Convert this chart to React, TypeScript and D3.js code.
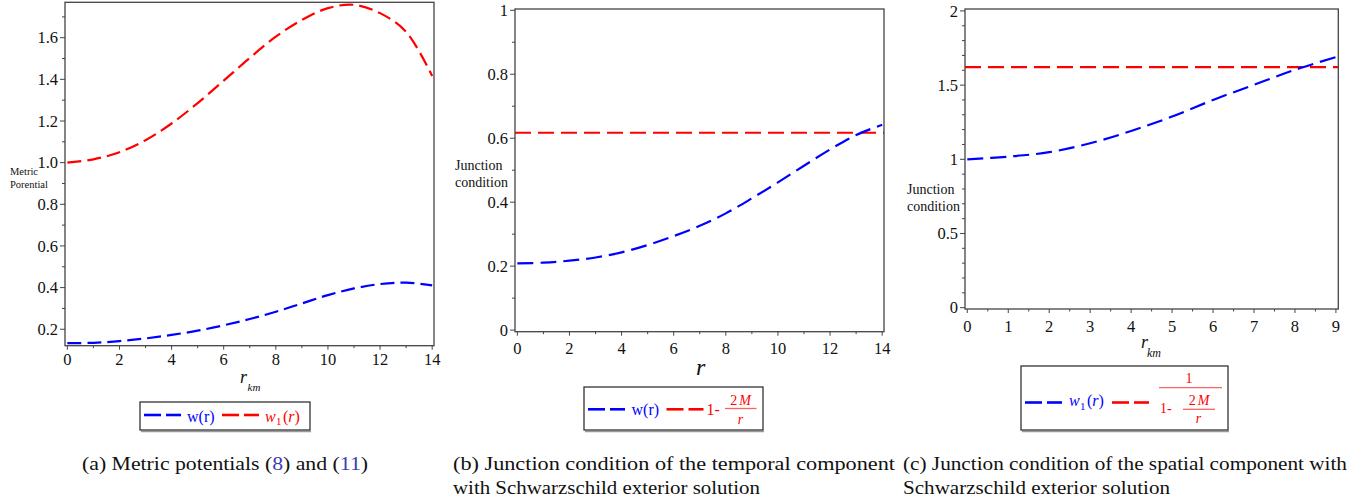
import React from "react";
import * as d3 from "d3";

// ---------- data ----------
const R_A = [0, 1, 2, 3, 4, 5, 6, 7, 8, 9, 10, 11, 12, 13, 14];
const W_A = [0.133, 0.135, 0.143, 0.156, 0.173, 0.193, 0.219, 0.249, 0.284, 0.324, 0.364, 0.396, 0.417, 0.424, 0.411];
const W1_A = [1.0, 1.016, 1.05, 1.108, 1.188, 1.286, 1.394, 1.503, 1.605, 1.685, 1.742, 1.758, 1.718, 1.628, 1.416];

const R_B = [0, 1, 2, 3, 4, 5, 6, 7, 8, 9, 10, 11, 12, 13, 14];
const W_B = [0.2085, 0.211, 0.217, 0.227, 0.243, 0.266, 0.294, 0.326, 0.365, 0.412, 0.462, 0.514, 0.565, 0.61, 0.642];
const SCHW_B = 0.617;

const R_C = [0, 1, 2, 3, 4, 5, 6, 7, 8, 9];
const W1_C = [1.0, 1.018, 1.048, 1.108, 1.191, 1.288, 1.4, 1.502, 1.603, 1.689];
const SCHW_C = 1.621;

const XTICKS_A = [0, 2, 4, 6, 8, 10, 12, 14];
const XMINOR_A = [1, 3, 5, 7, 9, 11, 13];
const YTICKS_A = [0.2, 0.4, 0.6, 0.8, 1.0, 1.2, 1.4, 1.6];
const YMINOR_A = [0.3, 0.5, 0.7, 0.9, 1.1, 1.3, 1.5, 1.7];

const XTICKS_B = [0, 2, 4, 6, 8, 10, 12, 14];
const XMINOR_B = [1, 3, 5, 7, 9, 11, 13];
const YTICKS_B = [0, 0.2, 0.4, 0.6, 0.8, 1];
const YMINOR_B = [0.1, 0.3, 0.5, 0.7, 0.9];

const XTICKS_C = [0, 1, 2, 3, 4, 5, 6, 7, 8, 9];
const XMINOR_C = [0.5, 1.5, 2.5, 3.5, 4.5, 5.5, 6.5, 7.5, 8.5];
const YTICKS_C = [0, 0.5, 1, 1.5, 2];
const YMINOR_C = [0.1, 0.2, 0.3, 0.4, 0.6, 0.7, 0.8, 0.9, 1.1, 1.2, 1.3, 1.4, 1.6, 1.7, 1.8, 1.9];

const FONT = "Liberation Serif, Times New Roman, DejaVu Serif, serif";
const RED = "#ff0000";
const BLUE = "#0000ff";

type Series = { x: number[]; y: number[]; color: string };

function Panel(props: {
  left: number; right: number; top: number; bottom: number;
  xDomain: [number, number]; yDomain: [number, number];
  xTicks: number[]; xMinor: number[]; yTicks: number[]; yMinor: number[];
  yFmt: (v: number) => string; xLabelOffset: number;
  series: Series[]; dash: string;
}) {
  const { left, right, top, bottom, xDomain, yDomain, xTicks, xMinor, yTicks, yMinor, yFmt, xLabelOffset, series, dash } = props;
  const x = d3.scaleLinear().domain(xDomain).range([left, right]);
  const y = d3.scaleLinear().domain(yDomain).range([bottom, top]);
  const line = d3
    .line<[number, number]>()
    .x((d) => x(d[0]))
    .y((d) => y(d[1]))
    .curve(d3.curveCatmullRom.alpha(0.5));
  return (
    <g>
      {series.map((s, i) => (
        <path
          key={i}
          d={line(s.x.map((v, j) => [v, s.y[j]] as [number, number])) || ""}
          fill="none"
          stroke={s.color}
          strokeWidth={2.2}
          strokeDasharray={dash}
        />
      ))}
      <rect x={left} y={top} width={right - left} height={bottom - top} fill="none" stroke="#444" strokeWidth={1.3} />
      {yTicks.map((t) => (
        <g key={"yt" + t}>
          <line x1={left - 5} x2={left} y1={y(t)} y2={y(t)} stroke="#444" strokeWidth={1} />
          <text x={left - 7} y={y(t)} dy="0.35em" textAnchor="end" fontSize={16.5} fill="#111">
            {yFmt(t)}
          </text>
        </g>
      ))}
      {yMinor.map((t) => (
        <line key={"ym" + t} x1={left - 3} x2={left} y1={y(t)} y2={y(t)} stroke="#444" strokeWidth={1} />
      ))}
      {xTicks.map((t) => (
        <g key={"xt" + t}>
          <line x1={x(t)} x2={x(t)} y1={bottom} y2={bottom + 4} stroke="#444" strokeWidth={1} />
          <text x={x(t)} y={bottom + xLabelOffset} textAnchor="middle" fontSize={16.5} fill="#111">
            {String(t)}
          </text>
        </g>
      ))}
      {xMinor.map((t) => (
        <line key={"xm" + t} x1={x(t)} x2={x(t)} y1={bottom} y2={bottom + 2.5} stroke="#444" strokeWidth={1} />
      ))}
    </g>
  );
}

function LegendBox({ x0, x1, y0, y1 }: { x0: number; x1: number; y0: number; y1: number }) {
  return (
    <g>
      <line x1={x0 + 1} x2={x1 + 1} y1={y1 + 1.5} y2={y1 + 1.5} stroke="#999" strokeWidth={1.5} />
      <rect x={x0} y={y0} width={x1 - x0} height={y1 - y0} fill="#fff" stroke="#333" strokeWidth={1.3} />
    </g>
  );
}

function DashSample({ x, y, color }: { x: number; y: number; color: string }) {
  return (
    <g>
      <line x1={x} x2={x + 17} y1={y} y2={y} stroke={color} strokeWidth={2.6} />
      <line x1={x + 22} x2={x + 37} y1={y} y2={y} stroke={color} strokeWidth={2.6} />
    </g>
  );
}

export default function App() {
  const fmt1 = (v: number) => v.toFixed(1);
  const fmtPlain = (v: number) => String(v);
  return (
    <svg
      width={1371}
      height={501}
      style={{ position: "absolute", left: 0, top: 0, background: "#fff", fontFamily: FONT }}
      fontFamily={FONT}
    >
      <rect x={0} y={0} width={1371} height={501} fill="#fff" />

      {/* Panel (a) */}
      <Panel
        left={65} right={434} top={2.3} bottom={345.7}
        xDomain={[-0.09, 14.07]} yDomain={[0.121, 1.77]}
        xTicks={XTICKS_A} xMinor={XMINOR_A} yTicks={YTICKS_A} yMinor={YMINOR_A}
        yFmt={fmt1} xLabelOffset={19}
        dash="14,6"
        series={[
          { x: R_A, y: W1_A, color: RED },
          { x: R_A, y: W_A, color: BLUE },
        ]}
      />
      <text x={10} y={175} fontSize={10.5} fill="#111">Metric</text>
      <text x={10} y={188} fontSize={10.5} fill="#111">Porential</text>
      <text x={240} y={383} fontSize={18} fontStyle="italic" fill="#111">r</text>
      <text x={247.5} y={391} fontSize={11} fontStyle="italic" fill="#111">km</text>

      <LegendBox x0={140} x1={310} y0={402} y1={430} />
      <DashSample x={144} y={415} color={BLUE} />
      <text x={187} y={421.5} fontSize={16} fill={BLUE}>w(r)</text>
      <DashSample x={222} y={415} color={RED} />
      <text x={265} y={421.5} fontSize={16} fontStyle="italic" fill={RED}>w</text>
      <text x={276} y={425} fontSize={11} fill={RED}>1</text>
      <text x={283} y={421.5} fontSize={16} fill={RED}>(<tspan fontStyle="italic">r</tspan>)</text>

      {/* Panel (b) */}
      <Panel
        left={515} right={884} top={9} bottom={331.7}
        xDomain={[-0.09, 14.07]} yDomain={[-0.005, 1.004]}
        xTicks={XTICKS_B} xMinor={XMINOR_B} yTicks={YTICKS_B} yMinor={YMINOR_B}
        yFmt={fmtPlain} xLabelOffset={22}
        dash="16,7"
        series={[
          { x: [-0.09, 14.07], y: [SCHW_B, SCHW_B], color: RED },
          { x: R_B, y: W_B, color: BLUE },
        ]}
      />
      <text x={455} y={170} fontSize={14} fill="#111">Junction</text>
      <text x={455} y={187} fontSize={14} fill="#111">condition</text>
      <text x={696} y={375} fontSize={24} fontStyle="italic" fill="#111">r</text>

      <LegendBox x0={584} x1={763} y0={387} y1={430} />
      <DashSample x={588} y={409.3} color={BLUE} />
      <text x={631.5} y={415} fontSize={16} fill={BLUE}>w(r)</text>
      <DashSample x={666.5} y={409.3} color={RED} />
      <text x={706.5} y={415} fontSize={16} fill={RED}>1-</text>
      <text x={740.5} y={405} textAnchor="middle" fontSize={14} fill={RED}>2<tspan fontStyle="italic" dx="2">M</tspan></text>
      <line x1={725} x2={756.5} y1={408.5} y2={408.5} stroke="#ff6060" strokeWidth={1.3} />
      <text x={740.5} y={424} textAnchor="middle" fontSize={14} fontStyle="italic" fill={RED}>r</text>

      {/* Panel (c) */}
      <Panel
        left={965} right={1338.3} top={9} bottom={309}
        xDomain={[-0.056, 9.058]} yDomain={[-0.009, 2.013]}
        xTicks={XTICKS_C} xMinor={XMINOR_C} yTicks={YTICKS_C} yMinor={YMINOR_C}
        yFmt={fmtPlain} xLabelOffset={22.5}
        dash="16,7"
        series={[
          { x: [-0.056, 9.058], y: [SCHW_C, SCHW_C], color: RED },
          { x: R_C, y: W1_C, color: BLUE },
        ]}
      />
      <text x={907} y={194} fontSize={14} fill="#111">Junction</text>
      <text x={907} y={211} fontSize={14} fill="#111">condition</text>
      <text x={1141} y={348} fontSize={18} fontStyle="italic" fill="#111">r</text>
      <text x={1147} y={357} fontSize={12} fontStyle="italic" fill="#111">km</text>

      <LegendBox x0={1021} x1={1228} y0={366} y1={430} />
      <DashSample x={1025} y={402.5} color={BLUE} />
      <text x={1069} y={406} fontSize={16} fontStyle="italic" fill={BLUE}>w</text>
      <text x={1080} y={410} fontSize={11} fill={BLUE}>1</text>
      <text x={1087} y={406} fontSize={16} fill={BLUE}>(<tspan fontStyle="italic">r</tspan>)</text>
      <DashSample x={1112} y={402.5} color={RED} />
      <text x={1189} y={383} textAnchor="middle" fontSize={14} fill={RED}>1</text>
      <line x1={1159} x2={1222} y1={387.7} y2={387.7} stroke="#ff6060" strokeWidth={1.3} />
      <text x={1160} y={413} fontSize={14} fill={RED}>1-</text>
      <text x={1199} y={405} textAnchor="middle" fontSize={14} fill={RED}>2<tspan fontStyle="italic" dx="2">M</tspan></text>
      <line x1={1183} x2={1215} y1={409.3} y2={409.3} stroke="#ff6060" strokeWidth={1.3} />
      <text x={1198.5} y={423} textAnchor="middle" fontSize={14} fontStyle="italic" fill={RED}>r</text>

      {/* Captions */}
      <text x={82} y={470} fontSize={19} fill="#111" textLength={286} lengthAdjust="spacingAndGlyphs">
        (a)  Metric potentials (<tspan fill="#3b3bb3">8</tspan>) and (<tspan fill="#3b3bb3">11</tspan>)
      </text>
      <text x={453} y={470} fontSize={19} fill="#111" textLength={442} lengthAdjust="spacingAndGlyphs">
        (b)   Junction condition of the temporal component
      </text>
      <text x={453} y={494} fontSize={19} fill="#111" textLength={307} lengthAdjust="spacingAndGlyphs">
        with Schwarzschild exterior solution
      </text>
      <text x={903} y={470} fontSize={19} fill="#111" textLength={444} lengthAdjust="spacingAndGlyphs">
        (c)  Junction condition of the spatial component with
      </text>
      <text x={903} y={494} fontSize={19} fill="#111" textLength={267} lengthAdjust="spacingAndGlyphs">
        Schwarzschild exterior solution
      </text>
    </svg>
  );
}
